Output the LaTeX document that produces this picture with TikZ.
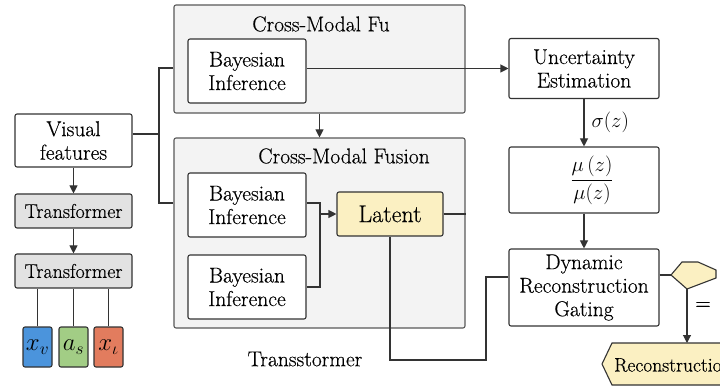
\documentclass[tikz,border=0pt]{standalone}
\usepackage{fontspec}
\setmainfont{Latin Modern Roman}[UprightFeatures={FakeBold=0.35}]
\usetikzlibrary{arrows.meta,calc}
\definecolor{lineC}{HTML}{333333}
\definecolor{bigfill}{HTML}{F3F3F3}
\definecolor{grayfill}{HTML}{E2E2E2}
\definecolor{yel}{HTML}{FBF0C2}
\definecolor{blueC}{HTML}{4B94DC}
\definecolor{greenC}{HTML}{A2CD85}
\definecolor{redC}{HTML}{E27C5E}
\tikzset{
  box/.style={draw=lineC, line width=1.1pt, rounded corners=2pt, fill=white, align=center,
    inner sep=0pt, font=\fontsize{21.5}{23.5}\selectfont},
  bigbox/.style={draw=black!65, line width=1.1pt, rounded corners=2pt, fill=bigfill, inner sep=0pt},
  varbox/.style={draw=lineC, line width=1.1pt, rounded corners=2pt, inner sep=0pt,
    minimum width=29pt, minimum height=40pt, font=\fontsize{24}{26}\selectfont},
  conn/.style={draw=lineC, line width=1.1pt},
  arr/.style={conn, -{Triangle[length=8pt,width=8pt]}},
  lbl/.style={font=\fontsize{21.5}{23.5}\selectfont, inner sep=0pt}
}
\begin{document}
\begin{tikzpicture}[x=1pt,y=-1pt]
\useasboundingbox (0,0) rectangle (720,387);
\fill[white] (0,0) rectangle (720,387);

% left column
\node[box, minimum width=117pt, minimum height=53pt] (vf) at (73.5,140.5) {Visual\\features};
\node[box, fill=grayfill, minimum width=117pt, minimum height=34pt, font=\fontsize{20}{22}\selectfont] (t1) at (73.5,211) {Transformer};
\node[box, fill=grayfill, minimum width=117pt, minimum height=34pt, font=\fontsize{20}{22}\selectfont] (t2) at (73.5,271) {Transformer};
\node[varbox, fill=blueC] (xv) at (37.5,347) {$x_v$};
\node[varbox, fill=greenC] (as) at (73.5,347) {$a_s$};
\node[varbox, fill=redC] (xt) at (108.5,347) {$x_\iota$};

% big boxes
\node[bigbox, minimum width=291pt, minimum height=108pt] (top) at (319.5,59) {};
\node[lbl] (toptitle) at (321,24) {Cross-Modal Fu};
\node[bigbox, minimum width=291pt, minimum height=190pt] (bot) at (319.5,233) {};
\node[lbl] (bottitle) at (344,156) {Cross-Modal Fusion};

\node[box, minimum width=118pt, minimum height=64pt] (bia) at (247,71) {Bayesian\\Inference};
\node[box, minimum width=118pt, minimum height=64pt] (bi1) at (247,205) {Bayesian\\Inference};
\node[box, minimum width=118pt, minimum height=64pt] (bi2) at (247,287) {Bayesian\\Inference};
\node[box, fill=yel, minimum width=106pt, minimum height=44pt, font=\fontsize{24}{26}\selectfont] (lat) at (390,214) {Latent};

\node[lbl] (trans) at (305,359) {Transstormer};

% right column
\node[box, minimum width=150pt, minimum height=60pt] (ue) at (584,68.5) {Uncertainty\\Estimation};
\node[box, minimum width=150pt, minimum height=66pt] (mu) at (584,180) {};
\node[lbl] (frac) at (592,180) {$\displaystyle\frac{\mu\,(z)}{\mu(z)}$};
\node[box, minimum width=150pt, minimum height=77pt] (drg) at (584,287.5) {Dynamic\\Reconstruction\\Gating};

% hexagon and reconstruction
\coordinate (hexL) at (671,275);
\coordinate (hexB) at (687,289);
\draw[draw=lineC, line width=1.1pt, fill=yel] (hexL) -- (682,262) -- (698,262) -- (716,270) -- (716,278) -- (hexB) -- cycle;
\draw[draw=lineC, line width=1.1pt, fill=yel] (740,343) -- (612,343) -- (602,364) -- (612,385) -- (740,385);
\node[anchor=west, inner sep=0pt, font=\fontsize{19.5}{21}\selectfont] (rec) at (614,365) {Reconstruction};
\coordinate (recTop) at (687,343);
\node[lbl] (eq) at (703,306) {=};

% connectors left
\coordinate (jv) at (159,134);
\draw[conn] (vf.east |- jv) -- (jv);
\draw[conn] (top.west |- 0,68) -- (159,68) -- (159,203) -- (bot.west |- 0,203);
\draw[arr] (vf.south) -- (t1.north);
\draw[arr] (t1.south) -- (t2.north);
\draw[conn] (xv.north) -- (xv.north |- t2.south);
\draw[conn] (as.north) -- (as.north |- t2.south);
\draw[conn] (xt.north) -- (xt.north |- t2.south);

% connectors middle
\draw[arr] (bia.east |- ue.west) -- (ue.west);
\draw[arr] (top.south) -- (bot.north);
\coordinate (j1) at (320,203);
\draw[conn] (bi1.east |- j1) -- (j1) -- (j1 |- bi2.east) -- (bi2.east);
\draw[arr] (j1 |- lat.west) -- (lat.west);
\draw[conn] (lat.east) -- (lat.east -| bot.east);
\coordinate (lp1) at (390,360);
\coordinate (lp2) at (486,360);
\coordinate (lp3) at (486,277);
\draw[conn] (lat.south) -- (lp1) -- (lp2) -- (lp3) -- (drg.west |- lp3);

% connectors right
\draw[arr] (ue.south) -- node[right=7pt, lbl] {$\sigma(z)$} (mu.north);
\draw[arr] (mu.south) -- (drg.north);
\draw[draw=lineC, line width=2.5pt] (drg.east |- hexL) -- (hexL);
\draw[arr] (hexB) -- (recTop);
\end{tikzpicture}
\end{document}
